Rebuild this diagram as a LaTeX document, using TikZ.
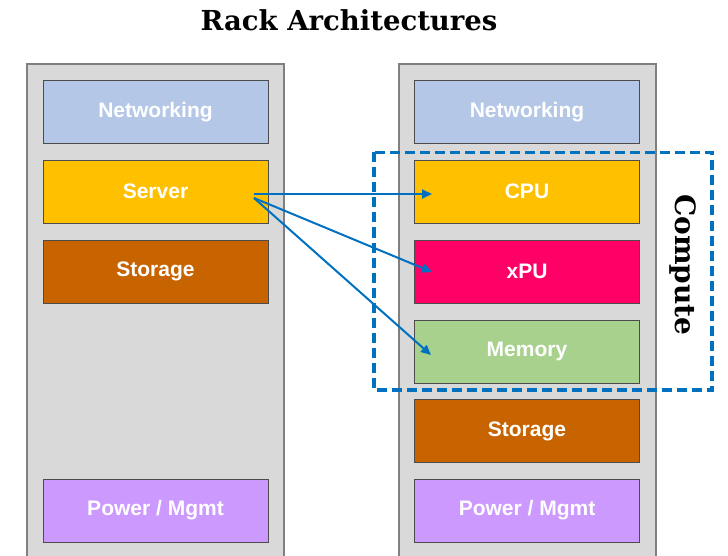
\documentclass[tikz,border=0pt]{standalone}
\usepackage{fontspec}
\setmainfont{DejaVu Serif}
\setsansfont{Liberation Sans}
\usetikzlibrary{arrows.meta}
\definecolor{rackgray}{HTML}{D9D9D9}
\definecolor{rackedge}{HTML}{808080}
\definecolor{netc}{HTML}{B4C7E7}
\definecolor{serverc}{HTML}{FFC000}
\definecolor{storc}{HTML}{C86400}
\definecolor{xpuc}{HTML}{FF0066}
\definecolor{memc}{HTML}{A9D18E}
\definecolor{powc}{HTML}{CC99FF}
\definecolor{arrowc}{HTML}{0070C0}
\tikzset{
  rack/.style={draw=rackedge, fill=rackgray, line width=1.4pt},
  unit/.style={draw=black!70, line width=0.9pt, minimum width=225pt, minimum height=63pt,
    inner sep=0pt, text=white, font=\sffamily\bfseries\fontsize{21}{24}\selectfont},
  link/.style={draw=arrowc, line width=2pt, -{Triangle[length=10pt,width=9pt]}},
  grp/.style={draw=arrowc, line width=3.4pt, dash pattern=on 10pt off 5pt}
}
\begin{document}
\begin{tikzpicture}[x=1pt,y=-1pt]
\useasboundingbox (0,0) rectangle (728,556);
% title
\node[font=\bfseries\fontsize{27.5}{30}\selectfont] (title) at (349,20) {Rack Architectures};
% racks
\draw[rack] (27,570) -- (27,64) -- (284,64) -- (284,570);
\draw[rack] (399,570) -- (399,64) -- (656,64) -- (656,570);
% left rack units
\node[unit, fill=netc] (lnet) at (155.5,112) {Networking};
\node[unit, fill=serverc] (lserver) at (155.5,191.5) {Server};
\node[unit, fill=storc] (lstor) at (155.5,271.5) {Storage};
\node[unit, fill=powc] (lpow) at (155.5,510.5) {Power / Mgmt};
% right rack units
\node[unit, fill=netc] (rnet) at (527,112) {Networking};
\node[unit, fill=serverc] (rcpu) at (527,191.5) {CPU};
\node[unit, fill=xpuc] (rxpu) at (527,271.5) {xPU};
\node[unit, fill=memc] (rmem) at (527,351.5) {Memory};
\node[unit, fill=storc] (rstor) at (527,431) {Storage};
\node[unit, fill=powc] (rpow) at (527,510.5) {Power / Mgmt};
% compute group
\draw[grp] (374,152.5) rectangle (712,390);
\node[rotate=-90, font=\bfseries\fontsize{28}{30}\selectfont] (compute) at (683,265) {Compute};
% arrows
\coordinate (s1) at (254,194);
\coordinate (s2) at (254,198);
\coordinate (t1) at (432,194);
\coordinate (t2) at (432,272);
\coordinate (t3) at (431,355);
\draw[link] (s1) -- (t1);
\draw[link] (s2) -- (t2);
\draw[link] (s2) -- (t3);
\end{tikzpicture}
\end{document}
